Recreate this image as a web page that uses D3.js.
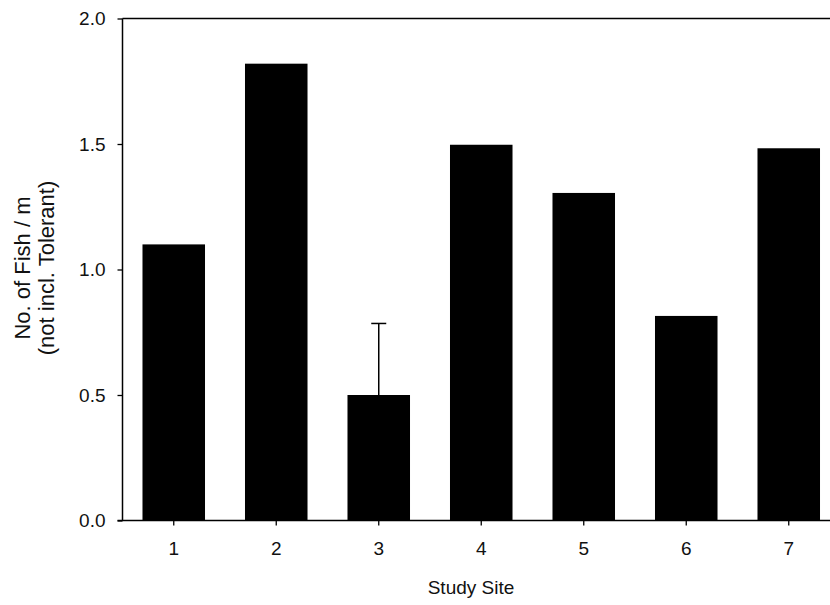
<!DOCTYPE html>
<html><head><meta charset="utf-8">
<script src="https://cdn.jsdelivr.net/npm/d3@7"></script>
<style>body{margin:0;background:#fff;} svg{display:block;font-family:"Liberation Sans",Arial,sans-serif;}</style>
</head><body>
<svg id="c" width="830" height="605"></svg>
<script>
const sites = ["1","2","3","4","5","6","7"];
const values = [1.10, 1.82, 0.50, 1.497, 1.305, 0.815, 1.483];
const errors = [0, 0, 0.285, 0, 0, 0, 0];
const yTicks = [0, 0.5, 1.0, 1.5, 2.0];

const svg = d3.select("#c");
const mLeft = 122.5, mTop = 18.5, mBottom = 520.5, mRight = 840;
const x = d3.scaleBand().domain(sites).range([mLeft, mRight]).paddingInner(0.39).paddingOuter(0.195);
const y = d3.scaleLinear().domain([0, 2]).range([mBottom, mTop]);

// bars
svg.selectAll("rect.bar").data(sites).enter().append("rect")
  .attr("x", d => x(d)).attr("width", x.bandwidth())
  .attr("y", (d,i) => y(values[i])).attr("height", (d,i) => y(0) - y(values[i]))
  .attr("fill", "#000");

// error bars
const eg = svg.append("g");
sites.forEach((d,i) => {
  if (errors[i] > 0) {
    const cx = x(d) + x.bandwidth()/2;
    eg.append("line").attr("x1", cx).attr("x2", cx).attr("y1", y(values[i])).attr("y2", y(values[i]+errors[i])).attr("stroke","#000").attr("stroke-width",1.5);
    eg.append("line").attr("x1", cx-7.5).attr("x2", cx+7.5).attr("y1", y(values[i]+errors[i])).attr("y2", y(values[i]+errors[i])).attr("stroke","#000").attr("stroke-width",1.5);
  }
});

// top frame line
svg.append("line").attr("x1", mLeft).attr("x2", 830).attr("y1", mTop).attr("y2", mTop).attr("stroke","#000").attr("stroke-width",1.5);

// y axis
const ya = svg.append("g").attr("transform", `translate(${mLeft},0)`)
  .call(d3.axisLeft(y).tickValues(yTicks).tickFormat(d3.format(".1f")).tickSize(5).tickPadding(12).tickSizeOuter(0));
// x axis
const xa = svg.append("g").attr("transform", `translate(0,${mBottom})`)
  .call(d3.axisBottom(x).tickSize(5).tickPadding(16).tickSizeOuter(0));
[ya, xa].forEach(a => {
  a.attr("font-size", null).attr("font-family", null);
  a.select(".domain").attr("stroke","#000").attr("stroke-width",1.5);
  a.selectAll(".tick line").attr("stroke","#000").attr("stroke-width",1.3);
  a.selectAll("text").style("font-size", "19px").attr("fill","#111");
});
xa.select(".domain").attr("d", `M${mLeft-5},0H830`);
ya.select(".domain").attr("d", `M0,${mTop}V${mBottom}`);

// axis titles
svg.append("text").attr("x", 471).attr("y", 594).attr("text-anchor","middle")
  .style("font-size", "19px").attr("fill","#111").text("Study Site");
const yt = svg.append("text").attr("transform", "translate(30,268) rotate(-90)").attr("text-anchor","middle")
  .style("font-size", "22px").attr("fill","#111");
yt.append("tspan").attr("x",0).attr("dy",0).text("No. of Fish / m");
yt.append("tspan").attr("x",0).attr("dy",24).text("(not incl. Tolerant)");
</script>
</body></html>
